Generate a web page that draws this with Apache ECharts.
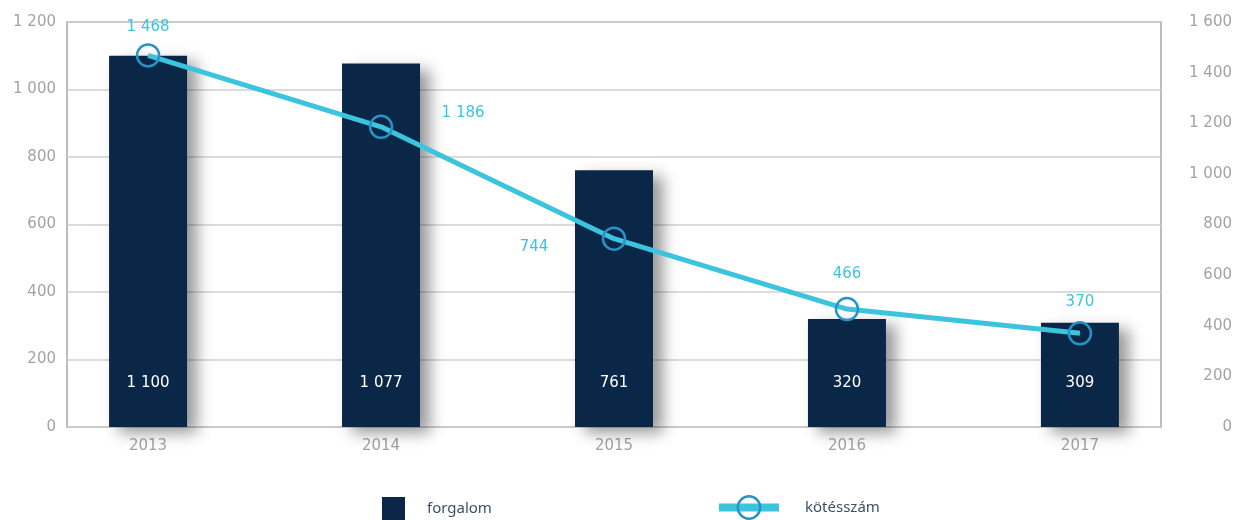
<!DOCTYPE html>
<html>
<head>
<meta charset="utf-8">
<script src="https://cdn.jsdelivr.net/npm/echarts@6/dist/echarts.min.js"></script>
<style>
  html, body { margin: 0; padding: 0; background: #fff; }
  #chart { width: 1236px; height: 520px; }
</style>
</head>
<body>
<div id="chart"></div>
<script>
    'use strict';
    // adatok
    var years = [2013, 2014, 2015, 2016, 2017];
    var forgalom = [1100, 1077, 761, 320, 309];
    var kotesszam = [1468, 1186, 744, 466, 370];

    // cimke eltolasok a vonal pontjaihoz (px)
    var lineLabelOffsets = [[0, -28], [82, -14], [-80, 8], [0, -35], [0, -31]];

    var barColor = '#0a2748';
    var lineColor = '#3cc4df';
    var ringColor = '#2a92c4';
    var axisText = '#a3a3a3';
    var fontFamily = 'DejaVu Sans';

    function fmt(v) {
        return String(v).replace(/\B(?=(\d{3})+(?!\d))/g, ' ');
    }

    var barData = years.map(function (y, i) { return [y, forgalom[i]]; });
    var lineData = years.map(function (y, i) {
        return {
            value: [y, kotesszam[i]],
            label: { offset: lineLabelOffsets[i] }
        };
    });

    var myChart = echarts.init(document.getElementById('chart'));
    var option = {
        animation: false,
        grid: {
            left: 67, right: 75, top: 22, bottom: 93,
            show: true,
            borderColor: '#bdbdbd',
            borderWidth: 2
        },
        legend: [
            {
                data: ['forgalom'],
                left: 382, top: 497,
                padding: 0,
                itemWidth: 23, itemHeight: 23,
                icon: 'rect',
                itemStyle: { shadowBlur: 0, shadowOffsetX: 0, shadowOffsetY: 0 },
                textStyle: { color: '#3d4f66', fontSize: 15, fontFamily: 'Noto Sans', padding: [0, 0, 0, 17] }
            },
            {
                data: ['kötésszám'],
                left: 715, top: 495,
                padding: 0,
                itemWidth: 60, itemHeight: 28,
                lineStyle: { width: 8 },
                itemStyle: { borderWidth: 2.5 },
                textStyle: { color: '#3d4f66', fontSize: 15, fontFamily: 'Noto Sans', padding: [0, 0, 0, 21] }
            }
        ],
        xAxis: {
            type: 'value',
            min: 2012.652,
            max: 2017.348,
            axisLine: { show: false },
            axisTick: { show: false },
            splitLine: { show: false },
            axisLabel: {
                customValues: years,
                formatter: function (v) { return String(v); },
                color: axisText,
                fontSize: 15,
                fontFamily: fontFamily,
                margin: 12
            }
        },
        yAxis: [
            {
                type: 'value',
                min: 0, max: 1200, interval: 200,
                axisLine: { show: false },
                axisTick: { show: false },
                splitLine: { lineStyle: { color: '#d0d0d0', width: 1.5 } },
                axisLabel: {
                    color: axisText, fontSize: 15, fontFamily: fontFamily, margin: 11,
                    formatter: fmt
                }
            },
            {
                type: 'value',
                min: 0, max: 1600, interval: 200,
                axisLine: { show: false },
                axisTick: { show: false },
                splitLine: { show: false },
                axisLabel: {
                    color: axisText, fontSize: 15, fontFamily: fontFamily,
                    align: 'right', margin: 71,
                    formatter: fmt
                }
            }
        ],
        series: [
            {
                name: 'forgalom',
                type: 'bar',
                yAxisIndex: 0,
                barWidth: 78,
                data: barData,
                itemStyle: {
                    color: barColor,
                    shadowColor: 'rgba(0,0,0,0.4)',
                    shadowBlur: 14,
                    shadowOffsetX: 10,
                    shadowOffsetY: 6
                },
                label: {
                    show: true,
                    position: 'insideBottom',
                    distance: 36,
                    color: '#ffffff',
                    fontSize: 15,
                    fontFamily: fontFamily,
                    formatter: function (p) { return fmt(p.value[1]); }
                }
            },
            {
                name: 'kötésszám',
                type: 'line',
                yAxisIndex: 1,
                z: 5,
                data: lineData,
                symbol: 'circle',
                symbolSize: 22,
                lineStyle: { color: lineColor, width: 5 },
                itemStyle: { color: 'rgba(0,0,0,0)', borderColor: ringColor, borderWidth: 2.5 },
                label: {
                    show: true,
                    position: 'inside',
                    color: lineColor,
                    fontSize: 15,
                    fontFamily: fontFamily,
                    formatter: function (p) { return fmt(p.value[1]); }
                }
            }
        ]
    };
    myChart.setOption(option);
</script>
</body>
</html>
